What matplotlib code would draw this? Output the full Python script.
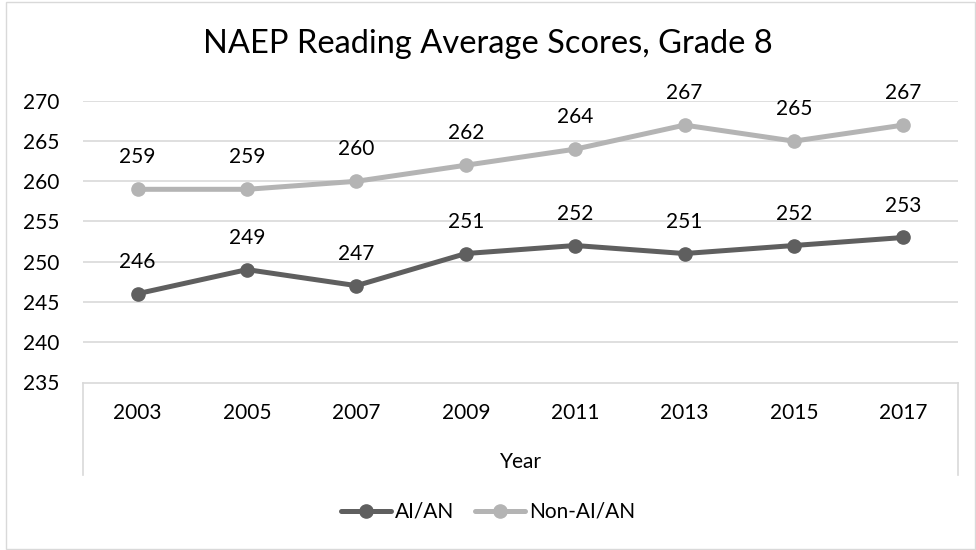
import matplotlib
matplotlib.use("Agg")
import matplotlib.pyplot as plt
import matplotlib.patches as patches

# data
years = ["2003", "2005", "2007", "2009", "2011", "2013", "2015", "2017"]
ai_an = [246, 249, 247, 251, 252, 251, 252, 253]
non_ai_an = [259, 259, 260, 262, 264, 267, 265, 267]
y_ticks = [235, 240, 245, 250, 255, 260, 265, 270]

plt.rcParams['font.family'] = ['Lato', 'DejaVu Sans']
fs = 15

W, H = 976, 550
fig = plt.figure(figsize=(W / 100, H / 100), dpi=100, facecolor='white')

# outer chart border
fig.add_artist(patches.Rectangle((6 / W, 1 / H), 969 / W, 547 / H, transform=fig.transFigure,
                                 facecolor='none', edgecolor='#d9d9d9', linewidth=1))

ax = fig.add_axes([83 / W, 1 - 382 / H, 875 / W, 281 / H])
x = list(range(len(years)))

ax.set_xlim(-0.5, len(years) - 0.5)
ax.set_ylim(235, 270)
ax.set_yticks(y_ticks)
ax.tick_params(axis='y', length=0, pad=17, labelsize=fs, colors='black')
ax.set_xticks([])
for s in ax.spines.values():
    s.set_visible(False)
for t in y_ticks[1:]:
    ax.axhline(t, color='#d9d9d9', linewidth=1.2, zorder=0)

dark = '#5f5f5f'
light = '#b4b4b4'
ax.plot(x, ai_an, color=dark, linewidth=3.6, marker='o', markersize=9.5, label='AI/AN',
        solid_capstyle='round', zorder=3)
ax.plot(x, non_ai_an, color=light, linewidth=3.6, marker='o', markersize=9.5, label='Non-AI/AN',
        solid_capstyle='round', zorder=3)

for xi, v in zip(x, ai_an):
    ax.annotate(str(v), (xi, v), xytext=(0, 23), textcoords='offset points',
                ha='center', va='center', fontsize=fs, color='black')
for xi, v in zip(x, non_ai_an):
    ax.annotate(str(v), (xi, v), xytext=(0, 23), textcoords='offset points',
                ha='center', va='center', fontsize=fs, color='black')

# category axis box below plot
box_top = 1 - 383 / H
box_bot = 1 - 475 / H
x0, x1 = 83 / W, 958 / W
box_kw = dict(transform=fig.transFigure, color='#d9d9d9', linewidth=1.2)
fig.add_artist(plt.Line2D([x0, x1], [box_top, box_top], **box_kw))
fig.add_artist(plt.Line2D([x0, x0], [box_top, box_bot], **box_kw))
fig.add_artist(plt.Line2D([x1, x1], [box_top, box_bot], **box_kw))

for xi, yr in zip(x, years):
    fx = (83 + (xi + 0.5) * 875 / len(years)) / W
    fig.text(fx, 1 - 413 / H, yr, ha='center', va='center', fontsize=fs)
fig.text((83 + 958) / 2 / W, 1 - 462 / H, 'Year', ha='center', va='center', fontsize=fs)

fig.text(0.5, 1 - 44 / H, 'NAEP Reading Average Scores, Grade 8', ha='center', va='center',
         fontsize=23.5)

fig.legend(loc='center', bbox_to_anchor=(0.5, 1 - 512 / H), ncol=2, frameon=False,
           fontsize=fs, handlelength=2.4, columnspacing=1.0, handletextpad=0.2)

fig.savefig('out.png', dpi=100, facecolor='white')
